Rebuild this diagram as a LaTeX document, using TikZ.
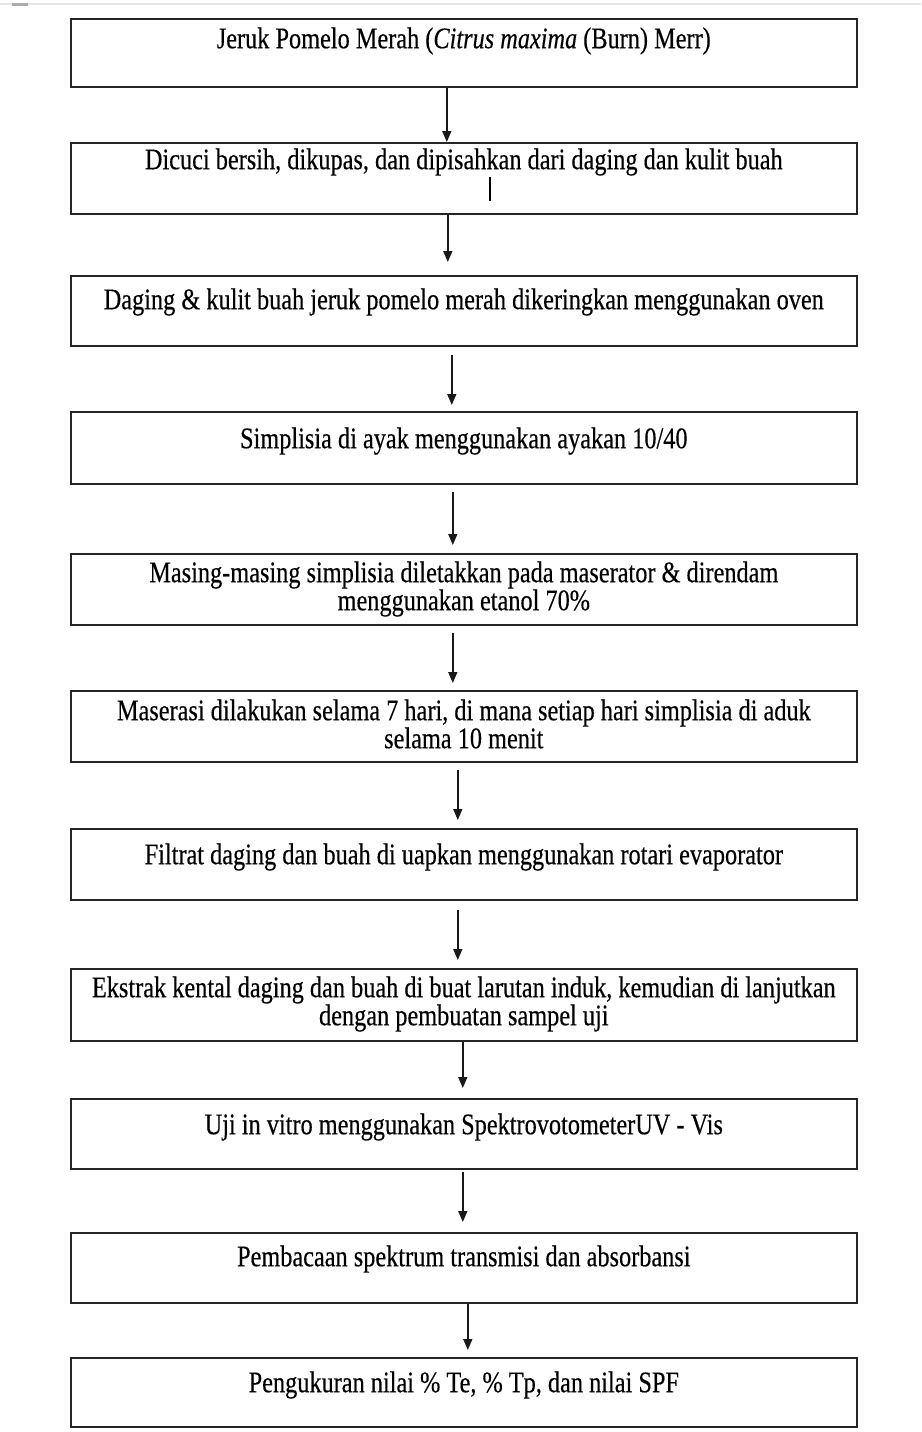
\documentclass[tikz,border=0pt]{standalone}
\usepackage{fontspec}
\setmainfont[FakeBold=0.4]{Liberation Serif}
\usetikzlibrary{arrows.meta}
\newcommand{\tl}[1]{\scalebox{1}[1.23]{#1}}
\newcommand{\topfix}{\rule{0pt}{24pt}}
\begin{document}
\begin{tikzpicture}[x=1pt,y=-1pt,
  box/.style={draw=black!85, line width=1.6pt, minimum width=786pt, inner sep=0pt, anchor=north west},
  lbl/.style={anchor=north, inner sep=0pt, align=center, font=\fontsize{24.3}{28}\selectfont},
  arr/.style={draw=black!90, line width=1.5pt, -{Triangle[length=11pt,width=9pt]}}]
\useasboundingbox (0,0) rectangle (921,1432);
\draw[gray!20, line width=2pt] (0,4) -- (921,4);
\draw[gray!65, line width=3pt] (12,4) -- (28,4);

\node[box, minimum height=68pt] (b1) at (70,18) {};
\node[box, minimum height=71pt] (b2) at (70,142) {};
\node[box, minimum height=70pt] (b3) at (70,275) {};
\node[box, minimum height=72pt] (b4) at (70,411) {};
\node[box, minimum height=71pt] (b5) at (70,553) {};
\node[box, minimum height=71pt] (b6) at (70,690) {};
\node[box, minimum height=71pt] (b7) at (70,828) {};
\node[box, minimum height=72pt] (b8) at (70,968) {};
\node[box, minimum height=70pt] (b9) at (70,1098) {};
\node[box, minimum height=70pt] (b10) at (70,1232) {};
\node[box, minimum height=69pt] (b11) at (70,1357) {};

\node[lbl] (t1) at ([yshift=-6pt]b1.north) {\topfix\tl{Jeruk Pomelo Merah (\textit{Citrus maxima} (Burn) Merr)}};
\node[lbl] (t2) at ([yshift=-3pt]b2.north) {\topfix\tl{Dicuci bersih, dikupas, dan dipisahkan dari daging dan kulit buah}};
\node[lbl] (t3) at ([yshift=-10pt]b3.north) {\topfix\tl{Daging \& kulit buah jeruk pomelo merah dikeringkan menggunakan oven}};
\node[lbl] (t4) at ([yshift=-13pt]b4.north) {\topfix\tl{Simplisia di ayak menggunakan ayakan 10/40}};
\node[lbl] (t5) at ([yshift=-5pt]b5.north) {\topfix\tl{Masing-masing simplisia diletakkan pada maserator \& direndam}\\ \tl{menggunakan etanol 70\%}};
\node[lbl] (t6) at ([yshift=-6pt]b6.north) {\topfix\tl{Maserasi dilakukan selama 7 hari, di mana setiap hari simplisia di aduk}\\ \tl{selama 10 menit}};
\node[lbl] (t7) at ([yshift=-12pt]b7.north) {\topfix\tl{Filtrat daging dan buah di uapkan menggunakan rotari evaporator}};
\node[lbl] (t8) at ([yshift=-5pt]b8.north) {\topfix\tl{Ekstrak kental daging dan buah di buat larutan induk, kemudian di lanjutkan}\\ \tl{dengan pembuatan sampel uji}};
\node[lbl] (t9) at ([yshift=-12pt]b9.north) {\topfix\tl{Uji in vitro menggunakan SpektrovotometerUV - Vis}};
\node[lbl] (t10) at ([yshift=-10pt]b10.north) {\topfix\tl{Pembacaan spektrum transmisi dan absorbansi}};
\node[lbl] (t11) at ([yshift=-11pt]b11.north) {\topfix\tl{Pengukuran nilai \% Te, \% Tp, dan nilai SPF}};

\draw[line width=1.2pt] (490,177) -- (490,201);

\draw[arr] ([xshift=-17pt]b1.south) -- ([xshift=-17pt]b2.north);
\draw[arr] ([xshift=-16pt]b2.south) -- ([xshift=-16pt,yshift=13pt]b3.north);
\draw[arr] ([xshift=-12pt,yshift=-8pt]b3.south) -- ([xshift=-12pt,yshift=6pt]b4.north);
\draw[arr] ([xshift=-11pt,yshift=-7pt]b4.south) -- ([xshift=-11pt,yshift=8pt]b5.north);
\draw[arr] ([xshift=-11pt,yshift=-7pt]b5.south) -- ([xshift=-11pt,yshift=7pt]b6.north);
\draw[arr] ([xshift=-6pt,yshift=-7pt]b6.south) -- ([xshift=-6pt,yshift=8pt]b7.north);
\draw[arr] ([xshift=-6pt,yshift=-9pt]b7.south) -- ([xshift=-6pt,yshift=8pt]b8.north);
\draw[arr] ([xshift=-1pt]b8.south) -- ([xshift=-1pt,yshift=10pt]b9.north);
\draw[arr] ([xshift=-1pt,yshift=-2pt]b9.south) -- ([xshift=-1pt,yshift=10pt]b10.north);
\draw[arr] ([xshift=4pt]b10.south) -- ([xshift=4pt,yshift=7pt]b11.north);
\end{tikzpicture}
\end{document}
